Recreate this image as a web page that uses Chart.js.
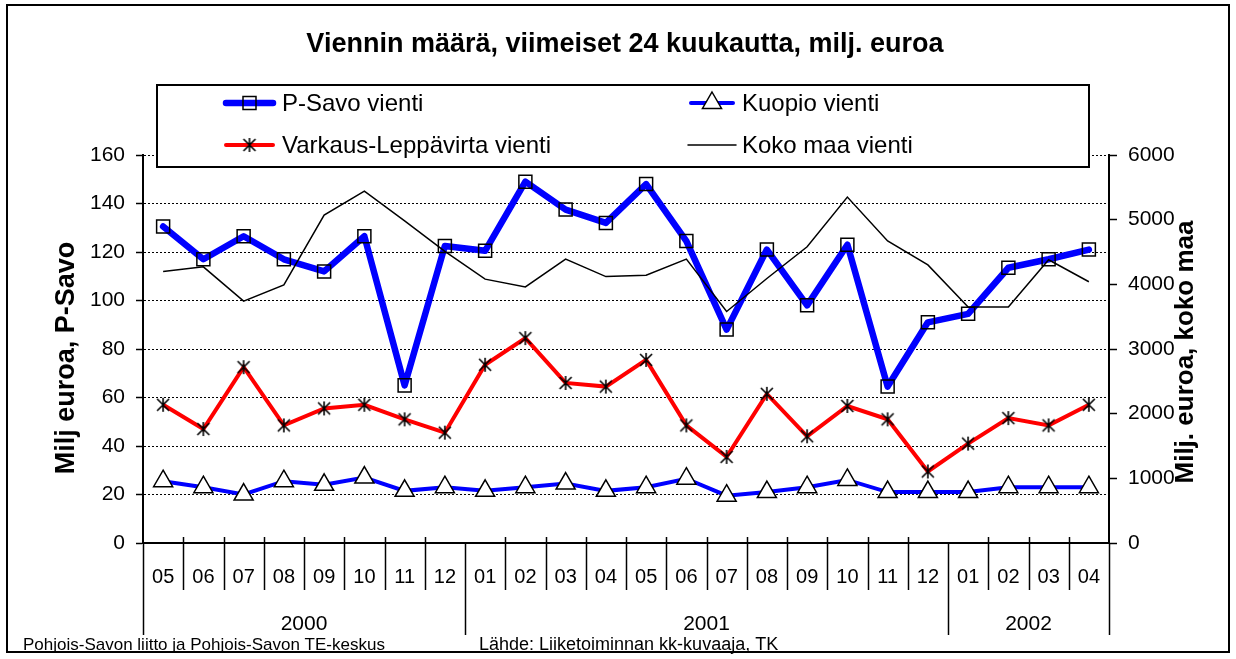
<!DOCTYPE html>
<html><head><meta charset="utf-8">
<script src="https://cdn.jsdelivr.net/npm/chart.js@4/dist/chart.umd.min.js"></script>
<style>html,body{margin:0;padding:0;background:#fff}#wrap{width:1236px;height:659px;position:relative}</style>
</head><body><div id="wrap"><canvas id="c" width="1236" height="659"></canvas></div>
<script>
const chartTitle = 'Viennin määrä, viimeiset 24 kuukautta, milj. euroa';
const months = ['05','06','07','08','09','10','11','12','01','02','03','04','05','06','07','08','09','10','11','12','01','02','03','04'];
const years = ['2000','2001','2002'];
const pSavo = [130.5,117,126.5,117,112,126.5,65,122.5,120.5,149,137.5,132,148,124.5,88,121,98,123,64.5,91,94.5,113.5,117,121];
const kuopio = [25.5,23,20,25.5,24,27,21.5,23,21.5,23,24.5,21.5,23,26.5,19.5,21,23,26,21,21,21,23,23,23];
const varkaus = [57,47,72.5,48.5,55.5,57,51,45.5,73.5,84.5,66,64.5,75.5,48.5,35.5,61.5,44,56.5,51,29.5,41,51.5,48.5,57];
const kokoMaa = [4200,4270,3740,3990,5070,5440,4980,4510,4080,3960,4390,4120,4140,4390,3580,4090,4580,5350,4670,4300,3650,3650,4380,4040];
const seriesNames = ['P-Savo vienti','Kuopio vienti','Varkaus-Leppävirta vienti','Koko maa vienti'];
const leftTitle = 'Milj euroa, P-Savo';
const rightTitle = 'Milj. euroa, koko maa';
const footLeft = 'Pohjois-Savon liitto ja Pohjois-Savon TE-keskus';
const footRight = 'Lähde: Liiketoiminnan kk-kuvaaja, TK';

const FONT = "'Liberation Sans', Arial, sans-serif";

const starImg = (() => {
  const c = document.createElement('canvas'); c.width = 16; c.height = 16;
  const g = c.getContext('2d'); g.strokeStyle = '#000'; g.lineWidth = 1.6;
  g.beginPath(); g.moveTo(2,2); g.lineTo(14,14); g.moveTo(14,2); g.lineTo(2,14);
  g.moveTo(8,1); g.lineTo(8,15); g.stroke(); return c;
})();

function drawMarker(ctx, kind, x, y) {
  ctx.save();
  ctx.strokeStyle = '#000'; ctx.lineWidth = 1.5;
  if (kind === 'rect') {
    ctx.strokeRect(x - 6.5, y - 6.5, 13, 13);
  } else if (kind === 'triangle') {
    const r = 11;
    ctx.beginPath();
    ctx.moveTo(x, y - r);
    ctx.lineTo(x + r * 0.866, y + r * 0.5);
    ctx.lineTo(x - r * 0.866, y + r * 0.5);
    ctx.closePath(); ctx.fillStyle = '#fff'; ctx.fill(); ctx.stroke();
  } else if (kind === 'star') {
    ctx.drawImage(starImg, x - 8, y - 8);
  }
  ctx.restore();
}

const decor = {
  id: 'decor',
  beforeDraw(chart) {
    const ctx = chart.ctx;
    ctx.save(); ctx.fillStyle = '#fff'; ctx.fillRect(0, 0, chart.width, chart.height); ctx.restore();
  },
  afterDraw(chart) {
    const ctx = chart.ctx;
    const xs = chart.scales.x;
    const ca = chart.chartArea;
    ctx.save();
    // outer border
    ctx.strokeStyle = '#000'; ctx.lineWidth = 2;
    ctx.strokeRect(7, 5, 1222, 647);
    // title
    ctx.fillStyle = '#000';
    ctx.font = 'bold 27px ' + FONT;
    ctx.textAlign = 'center'; ctx.textBaseline = 'middle';
    ctx.fillText(chartTitle, 625, 45);
    // axis titles
    ctx.font = 'bold 27px ' + FONT;
    ctx.save(); ctx.translate(67, 358); ctx.rotate(-Math.PI / 2); ctx.fillText(leftTitle, 0, 0); ctx.restore();
    ctx.font = 'bold 26px ' + FONT;
    ctx.save(); ctx.translate(1186, 352); ctx.rotate(-Math.PI / 2); ctx.fillText(rightTitle, 0, 0); ctx.restore();
    // category separators
    const w = xs.getPixelForValue(1) - xs.getPixelForValue(0);
    const bounds = [];
    for (let i = 0; i <= months.length; i++) {
      const bx = i < months.length ? xs.getPixelForValue(i) - w / 2 : xs.getPixelForValue(months.length - 1) + w / 2;
      bounds.push(bx);
      const isYear = i === 0 || i === months.length || months[i] === '01';
      ctx.beginPath(); ctx.lineWidth = 1.5; ctx.strokeStyle = '#000';
      ctx.moveTo(Math.round(bx) + 0.5, ca.bottom - (isYear ? 0 : 6));
      ctx.lineTo(Math.round(bx) + 0.5, ca.bottom + (isYear ? 92 : 47));
      ctx.stroke();
    }
    // year labels
    const starts = [0];
    months.forEach((m, i) => { if (i > 0 && m === '01') starts.push(i); });
    starts.push(months.length);
    ctx.font = '21px ' + FONT; ctx.textAlign = 'center'; ctx.textBaseline = 'middle';
    for (let k = 0; k < years.length; k++) {
      const cx = (bounds[starts[k]] + bounds[starts[k + 1]]) / 2;
      ctx.fillText(years[k], cx, ca.bottom + 81);
    }
    // footers
    ctx.textAlign = 'left';
    ctx.font = '17px ' + FONT;
    ctx.fillText(footLeft, 23, 645);
    ctx.font = '18px ' + FONT;
    ctx.fillText(footRight, 479, 645);
    // legend box
    ctx.fillStyle = '#fff';
    ctx.fillRect(157, 85, 932, 82);
    ctx.strokeStyle = '#000'; ctx.lineWidth = 2;
    ctx.strokeRect(157, 85, 932, 82);
    const ds = chart.data.datasets;
    const byLabel = l => ds.find(d => d.label === l);
    const items = [
      {name: seriesNames[0], x: 223, y: 103, kind: 'rect'},
      {name: seriesNames[1], x: 688, y: 103, kind: 'triangle'},
      {name: seriesNames[2], x: 223, y: 145, kind: 'star'},
      {name: seriesNames[3], x: 688, y: 145, kind: null}
    ];
    ctx.font = '24px ' + FONT; ctx.textBaseline = 'middle'; ctx.textAlign = 'left';
    items.forEach(it => {
      const d = byLabel(it.name);
      const len = it.x < 400 ? 53 : 48;
      ctx.beginPath(); ctx.strokeStyle = d.borderColor; ctx.lineWidth = d.borderWidth; ctx.lineCap = 'round';
      ctx.moveTo(it.x + (d.borderWidth > 2 ? 3 : 0), it.y); ctx.lineTo(it.x + len - (d.borderWidth > 2 ? 3 : 0), it.y); ctx.stroke();
      if (it.kind) drawMarker(ctx, it.kind, it.x + len / 2, it.y);
      ctx.fillStyle = '#000';
      ctx.fillText(it.name, it.x + len + 6, it.y + 1);
    });
    ctx.restore();
  }
};

new Chart(document.getElementById('c'), {
  type: 'line',
  data: {
    labels: months,
    datasets: [
      {label: seriesNames[3], data: kokoMaa, yAxisID: 'y1', borderColor: '#000000', borderWidth: 1.5, pointRadius: 0, order: 0},
      {label: seriesNames[2], data: varkaus, yAxisID: 'y', borderColor: '#ff0000', borderWidth: 4, pointStyle: starImg, pointRadius: 8, order: 1},
      {label: seriesNames[0], data: pSavo, yAxisID: 'y', borderColor: '#0000ff', borderWidth: 6.5, borderJoinStyle: 'round', borderCapStyle: 'round',
        pointStyle: 'rect', pointRadius: 9.2, pointBorderColor: '#000', pointBackgroundColor: 'rgba(0,0,0,0)', pointBorderWidth: 1.5, order: 2},
      {label: seriesNames[1], data: kuopio, yAxisID: 'y', borderColor: '#0000ff', borderWidth: 4,
        pointStyle: 'triangle', pointRadius: 11, pointBorderColor: '#000', pointBackgroundColor: '#fff', pointBorderWidth: 1.5, order: 3}
    ]
  },
  options: {
    responsive: false, animation: false, devicePixelRatio: 1,
    layout: {padding: {top: 155, left: 0, right: 0, bottom: 0}},
    plugins: {legend: {display: false}, tooltip: {enabled: false}, title: {display: false}},
    elements: {line: {tension: 0}},
    scales: {
      x: {
        type: 'category', offset: true,
        grid: {display: false, drawTicks: false},
        border: {display: true, color: '#000', width: 2},
        ticks: {font: {size: 20, family: FONT}, color: '#000', padding: 22, maxRotation: 0, autoSkip: false},
        afterFit(s) { s.height = 116; }
      },
      y: {
        position: 'left', min: 0, max: 160,
        ticks: {stepSize: 20, font: {size: 21, family: FONT}, color: '#000', padding: 11, callback: v => String(v)},
        grid: {color: '#000', lineWidth: 1, tickLength: 7, tickWidth: 1.5, tickBorderDash: []},
        border: {display: true, color: '#000', width: 2, dash: [2, 2]},
        afterFit(s) { s.width = 143; }
      },
      y1: {
        position: 'right', min: 0, max: 6000,
        ticks: {stepSize: 1000, font: {size: 21, family: FONT}, color: '#000', padding: 11, callback: v => String(v)},
        grid: {drawOnChartArea: false, color: '#000', tickLength: 8, tickWidth: 1.5},
        border: {display: true, color: '#000', width: 2},
        afterFit(s) { s.width = 127; }
      }
    }
  },
  plugins: [decor]
});
</script>
</body></html>
